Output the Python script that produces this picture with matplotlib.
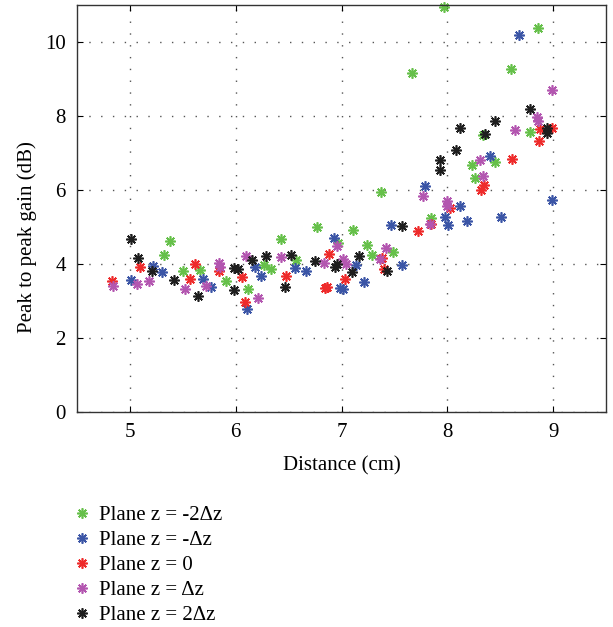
import matplotlib
matplotlib.use("Agg")
import matplotlib.pyplot as plt
from matplotlib.lines import Line2D

# Values (distance in cm, gain in dB)
x_m2 = [5.32, 5.38, 5.50, 5.66, 5.91, 6.12, 6.27, 6.33, 6.43, 6.57, 6.77, 6.97, 7.11, 7.24,
        7.29, 7.37, 7.49, 7.67, 7.85, 7.97, 8.23, 8.26, 8.34, 8.45, 8.60, 8.78, 8.86]
y_m2 = [4.25, 4.61, 3.80, 3.85, 3.53, 3.31, 3.98, 3.87, 4.68, 4.12, 5.00, 4.58, 4.91, 4.52,
        4.23, 5.95, 4.32, 9.17, 5.24, 10.95, 6.67, 6.33, 7.49, 6.76, 9.28, 7.58, 10.39]

x_m1 = [5.01, 5.22, 5.30, 5.69, 5.77, 6.11, 6.18, 6.24, 6.56, 6.66, 6.93, 6.99, 7.01, 7.14,
        7.21, 7.47, 7.57, 7.79, 7.98, 8.01, 8.12, 8.19, 8.40, 8.51, 8.68, 8.99]
y_m1 = [3.58, 3.94, 3.78, 3.60, 3.38, 2.78, 3.91, 3.67, 3.89, 3.80, 4.70, 3.35, 3.32, 3.96,
        3.51, 5.06, 3.96, 6.12, 5.27, 5.05, 5.56, 5.15, 6.91, 5.27, 10.20, 5.73]

x_0 = [4.83, 5.10, 5.57, 5.62, 5.84, 6.06, 6.09, 6.48, 6.84, 6.86, 6.88, 7.03, 7.38, 7.40,
       7.72, 7.85, 8.03, 8.32, 8.35, 8.61, 8.87, 8.88, 8.99]
y_0 = [3.55, 3.91, 3.59, 4.00, 3.80, 3.65, 2.97, 3.68, 3.35, 3.37, 4.28, 3.59, 4.16, 3.86,
       4.88, 5.09, 5.52, 5.99, 6.14, 6.85, 7.33, 7.65, 7.67]

x_p1 = [4.84, 5.07, 5.18, 5.52, 5.72, 5.84, 5.85, 6.10, 6.21, 6.43, 6.83, 6.96, 7.01, 7.04,
        7.36, 7.42, 7.77, 7.84, 8.00, 8.00, 8.31, 8.34, 8.64, 8.85, 8.86, 8.99]
y_p1 = [3.40, 3.47, 3.53, 3.31, 3.40, 4.03, 3.92, 4.22, 3.08, 4.18, 4.03, 4.48, 4.13, 4.01,
        4.13, 4.43, 5.83, 5.09, 5.69, 5.56, 6.80, 6.37, 7.63, 7.97, 7.86, 8.71]

x_p2 = [5.01, 5.08, 5.21, 5.42, 5.64, 5.98, 5.98, 6.02, 6.15, 6.29, 6.47, 6.52, 6.75, 6.94,
        6.96, 7.10, 7.17, 7.43, 7.57, 7.93, 7.93, 8.08, 8.12, 8.36, 8.45, 8.78, 8.94, 8.94]
y_p2 = [4.68, 4.15, 3.82, 3.58, 3.14, 3.29, 3.89, 3.86, 4.12, 4.22, 3.38, 4.23, 4.09, 3.91,
        4.00, 3.77, 4.21, 3.80, 5.02, 6.55, 6.80, 7.07, 7.67, 7.50, 7.86, 8.19, 7.68, 7.54]

labels = ["Plane z = -2\u0394z", "Plane z = -\u0394z", "Plane z = 0",
          "Plane z = \u0394z", "Plane z = 2\u0394z"]
colors = ["#66c04a", "#3b55a6", "#ee2b2b", "#b356b0", "#1e1e1e"]
series = [(x_m2, y_m2), (x_m1, y_m1), (x_0, y_0), (x_p1, y_p1), (x_p2, y_p2)]

plt.rcParams["font.family"] = ["Liberation Serif", "DejaVu Serif"]
plt.rcParams["font.size"] = 15

fig = plt.figure(figsize=(6.13, 6.27), dpi=100)
ax = fig.add_axes([0.1256, 0.343, 0.863, 0.649])

star = (8, 2, 0)  # asterisk like MATLAB's '*'
for (xs, ys), c in zip(series, colors):
    ax.plot(xs, ys, linestyle="none", marker=star, markersize=7.5,
            markeredgewidth=1.2, color=c, clip_on=False)

ax.set_xlim(4.5, 9.5)
ax.set_ylim(0, 11)
ax.set_xticks([5, 6, 7, 8, 9])
ax.set_yticks([0, 2, 4, 6, 8, 10])
ax.grid(True, color="#555555", linestyle=(0, (1, 7.5)), linewidth=1)
ax.tick_params(direction="in", top=True, right=True, length=4, pad=8)
for s in ax.spines.values():
    s.set_linewidth(1)
    s.set_color("#333333")

ax.set_xlabel("Distance (cm)", labelpad=10)
ax.set_ylabel("Peak to peak gain (dB)")
ax.yaxis.set_label_coords(-0.076, 0.43)

handles = [Line2D([], [], linestyle="none", marker=star, markersize=7.5,
                  markeredgewidth=1.2, color=c) for c in colors]
fig.legend(handles, labels, loc="upper left", bbox_to_anchor=(0.116, 0.194),
           frameon=False, numpoints=1, handlelength=1.0, handletextpad=0.35,
           labelspacing=0.26, borderaxespad=0, borderpad=0)

plt.savefig("out.png", dpi=100)
